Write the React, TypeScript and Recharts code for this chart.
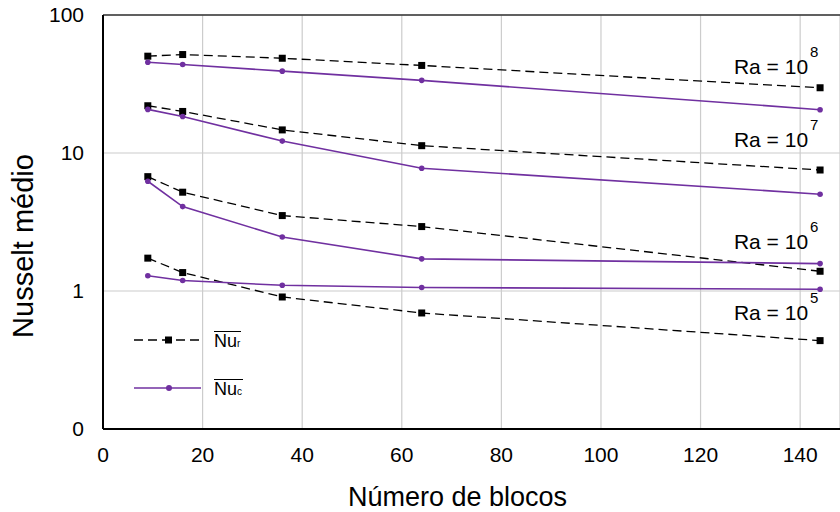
import React from 'react';
import { LineChart, Line, XAxis, YAxis, CartesianGrid, ReferenceDot, Legend } from 'recharts';

const FONT = '"Liberation Sans", Arial, Helvetica, sans-serif';
const PURPLE = '#7030A0';

// Número de blocos
const blocks = [9, 16, 36, 64, 144];

// Nusselt médio – radiação (Nu_r) e convecção (Nu_c) por Ra
const nuR_Ra8 = [50.3, 51.7, 48.6, 43.1, 29.7];
const nuC_Ra8 = [45.5, 43.8, 39.2, 33.6, 20.6];
const nuR_Ra7 = [22.0, 20.0, 14.7, 11.3, 7.53];
const nuC_Ra7 = [20.7, 18.4, 12.2, 7.75, 5.03];
const nuR_Ra6 = [6.74, 5.2, 3.52, 2.93, 1.39];
const nuC_Ra6 = [6.24, 4.09, 2.46, 1.71, 1.58];
const nuR_Ra5 = [1.73, 1.36, 0.905, 0.693, 0.437];
const nuC_Ra5 = [1.29, 1.19, 1.1, 1.06, 1.03];

const xTicks = [0, 20, 40, 60, 80, 100, 120, 140];
const yTicks = [0.1, 1, 10, 100];
const yMinorTicks = [0.2, 0.3, 0.4, 0.5, 0.6, 0.7, 0.8, 0.9, 1, 2, 3, 4, 5, 6, 7, 8, 9, 10, 20, 30, 40, 50, 60, 70, 80, 90];

// Ra annotations (anchored in data coordinates)
const raExponents = ['8', '7', '6', '5'];
const raAnchorX = [144, 144, 144, 144];
const raAnchorY = [37.3, 11.05, 2.02, 0.62];

const series = [
  { key: 'r8', values: nuR_Ra8, kind: 'r' },
  { key: 'c8', values: nuC_Ra8, kind: 'c' },
  { key: 'r7', values: nuR_Ra7, kind: 'r' },
  { key: 'c7', values: nuC_Ra7, kind: 'c' },
  { key: 'r6', values: nuR_Ra6, kind: 'r' },
  { key: 'c6', values: nuC_Ra6, kind: 'c' },
  { key: 'r5', values: nuR_Ra5, kind: 'r' },
  { key: 'c5', values: nuC_Ra5, kind: 'c' },
];

const data = blocks.map((b, i) => {
  const row: Record<string, number> = { blocks: b };
  series.forEach((s) => {
    row[s.key] = s.values[i];
  });
  return row;
});

const SquareDot = (p: any) => {
  const { cx, cy, index } = p;
  if (cx == null || cy == null) return <g key={`sq-${index}`} />;
  return <rect key={`sq-${p.dataKey}-${index}`} x={cx - 3.5} y={cy - 3.5} width={7} height={7} fill="#000" />;
};

const YTitle = (props: any) => {
  const vb = props.viewBox || {};
  const x = vb.x + 23;
  const y = vb.y + vb.height / 2 + 24;
  return (
    <text x={x} y={y} transform={`rotate(-90, ${x}, ${y})`} textAnchor="middle" dominantBaseline="central" fontSize={29} fill="#000" fontFamily={FONT}>
      Nusselt médio
    </text>
  );
};

const XTitle = (props: any) => {
  const vb = props.viewBox || {};
  const x = vb.x + vb.width / 2 - 14;
  const y = vb.y + 77;
  return (
    <text x={x} y={y} textAnchor="middle" fontSize={27} fill="#000" fontFamily={FONT}>
      Número de blocos
    </text>
  );
};

const makeRaLabel = (exp: string) => (props: any) => {
  const vb = props.viewBox || {};
  const cx = vb.x + (vb.width || 0) / 2;
  const cy = vb.y + (vb.height || 0) / 2;
  return (
    <g>
      <text x={cx - 12} y={cy} textAnchor="end" fontSize={21} fill="#000" fontFamily={FONT}>
        Ra = 10
      </text>
      <text x={cx - 10} y={cy - 17} textAnchor="start" fontSize={15} fill="#000" fontFamily={FONT}>
        {exp}
      </text>
    </g>
  );
};

const legendItems = [
  { name: 'Nu', sub: 'r', kind: 'r' },
  { name: 'Nu', sub: 'c', kind: 'c' },
];

const LegendContent = () => (
  <div style={{ fontFamily: FONT, color: '#000' }}>
    {legendItems.map((it, i) => (
      <div key={it.sub} style={{ display: 'flex', alignItems: 'center', height: 28, marginBottom: i === 0 ? 20 : 0 }}>
        <svg width={80} height={28} style={{ display: 'block' }}>
          {it.kind === 'r' ? (
            <>
              <line x1={0} y1={14} x2={67} y2={14} stroke="#000" strokeWidth={1.3} strokeDasharray="9 5" />
              <rect x={31} y={10.5} width={7} height={7} fill="#000" />
            </>
          ) : (
            <>
              <line x1={0} y1={14} x2={67} y2={14} stroke={PURPLE} strokeWidth={1.6} />
              <circle cx={35} cy={14} r={3} fill={PURPLE} />
            </>
          )}
        </svg>
        <span
          style={{
            display: 'inline-block',
            borderTop: '1px solid #000',
            lineHeight: 1,
            fontSize: 18,
            paddingRight: 1,
          }}
        >
          {it.name}
          <span style={{ fontSize: 10 }}>{it.sub}</span>
        </span>
      </div>
    ))}
  </div>
);

export default function App() {
  return (
    <div style={{ position: 'absolute', left: 0, top: 0, width: 840, height: 512, background: '#fff', overflow: 'hidden' }}>
      <LineChart width={840} height={512} data={data} margin={{ top: 14, right: 0, bottom: 0, left: 0 }} style={{ fontFamily: FONT }}>
        <CartesianGrid stroke="#cccccc" strokeWidth={1.2} />
        <XAxis
          dataKey="blocks"
          type="number"
          domain={[0, 148]}
          ticks={xTicks}
          allowDataOverflow
          height={83}
          tickLine={false}
          tickSize={8}
          tickMargin={10}
          axisLine={{ stroke: '#000', strokeWidth: 2 }}
          tick={{ fontSize: 21, fill: '#000' }}
          label={XTitle}
        />
        <XAxis
          xAxisId="top"
          orientation="top"
          type="number"
          domain={[0, 148]}
          height={1}
          tick={false}
          tickLine={false}
          axisLine={{ stroke: '#333', strokeWidth: 1.3 }}
        />
        <YAxis
          type="number"
          scale="log"
          domain={[0.1, 100]}
          ticks={yTicks}
          allowDataOverflow
          width={103}
          tickLine={false}
          tickSize={8}
          tickMargin={11}
          axisLine={{ stroke: '#000', strokeWidth: 2 }}
          tick={{ fontSize: 21, fill: '#000' }}
          tickFormatter={(v: number) => (v < 1 ? '0' : String(v))}
          label={YTitle}
        />
        <YAxis
          yAxisId="minor"
          type="number"
          scale="log"
          domain={[0.1, 100]}
          ticks={yMinorTicks}
          allowDataOverflow
          mirror
          width={1}
          tick={false}
          tickLine={{ stroke: '#000', strokeWidth: 1 }}
          tickSize={5}
          axisLine={false}
        />
        {series.map((s) =>
          s.kind === 'r' ? (
            <Line
              key={s.key}
              dataKey={s.key}
              type="linear"
              stroke="#000"
              strokeWidth={1.3}
              strokeDasharray="9 5"
              dot={SquareDot}
              activeDot={false}
              isAnimationActive={false}
              legendType="none"
            />
          ) : (
            <Line
              key={s.key}
              dataKey={s.key}
              type="linear"
              stroke={PURPLE}
              strokeWidth={1.6}
              dot={{ r: 2.8, fill: PURPLE, stroke: 'none' }}
              activeDot={false}
              isAnimationActive={false}
              legendType="none"
            />
          )
        )}
        {raExponents.map((exp, i) => (
          <ReferenceDot
            key={exp}
            x={raAnchorX[i]}
            y={raAnchorY[i]}
            r={1}
            fill="none"
            stroke="none"
            label={makeRaLabel(exp)}
          />
        ))}
        <Legend
          layout="vertical"
          align="center"
          verticalAlign="middle"
          content={LegendContent}
          wrapperStyle={{ left: 134, top: 326, width: 160, height: 80 }}
        />
      </LineChart>
    </div>
  );
}
